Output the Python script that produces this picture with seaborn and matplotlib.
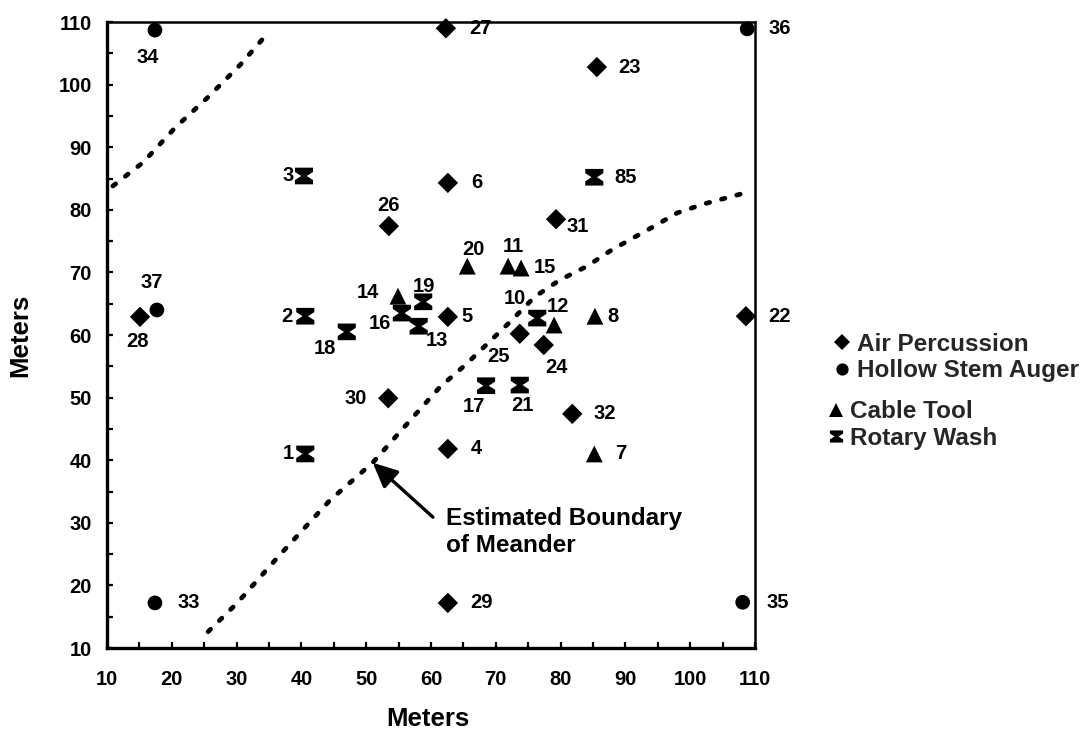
import matplotlib
matplotlib.use("Agg")
import numpy as np
import pandas as pd
import seaborn as sns
import matplotlib.pyplot as plt
from matplotlib.path import Path
from matplotlib.lines import Line2D
from matplotlib.ticker import MultipleLocator

# ---------------- data ----------------
ap_labels = ["27", "23", "6", "26", "31", "5", "25", "24", "30", "32", "4", "29", "28", "22"]
ap_x = [62.3, 85.6, 62.6, 53.5, 79.3, 62.6, 73.7, 77.4, 53.4, 81.8, 62.6, 62.6, 15.1, 108.6]
ap_y = [109.0, 102.8, 84.3, 77.4, 78.5, 62.9, 60.2, 58.4, 49.9, 47.4, 41.8, 17.2, 62.9, 63.0]

hsa_labels = ["34", "36", "37", "33", "35"]
hsa_x = [17.4, 108.8, 17.7, 17.4, 108.1]
hsa_y = [108.7, 108.9, 64.0, 17.2, 17.3]

ct_labels = ["20", "11", "15", "14", "12", "8", "7"]
ct_x = [65.6, 71.9, 73.9, 54.9, 79.0, 85.3, 85.2]
ct_y = [71.0, 71.0, 70.7, 66.2, 61.6, 63.0, 41.0]

rw_labels = ["3", "85", "2", "18", "16", "19", "13", "10", "17", "21", "1"]
rw_x = [40.4, 85.2, 40.6, 47.0, 55.5, 58.8, 58.1, 76.4, 68.5, 73.7, 40.6]
rw_y = [85.4, 85.2, 63.0, 60.5, 63.5, 65.3, 61.4, 62.7, 51.9, 52.0, 41.0]

methods = ["Air Percussion", "Hollow Stem Auger", "Cable Tool", "Rotary Wash"]

# estimated boundary of meander (two dotted curves)
upper_x = [10.9, 15.6, 20.5, 25.6, 30.5, 34.8]
upper_y = [83.8, 87.6, 93.1, 98.0, 103.1, 108.2]
lower_x = [25.6, 30.1, 36.7, 44.4, 51.0, 57.5, 61.4, 65.6, 72.2, 76.0, 79.9,
           84.1, 87.9, 94.3, 98.0, 102.0, 108.8]
lower_y = [12.6, 17.2, 24.9, 33.6, 39.6, 47.2, 51.7, 55.5, 62.1, 66.1, 68.8,
           71.0, 73.6, 77.3, 79.5, 80.9, 82.8]

x_ticks = [10, 20, 30, 40, 50, 60, 70, 80, 90, 100, 110]
y_ticks = [10, 20, 30, 40, 50, 60, 70, 80, 90, 100, 110]

# ---------------- layout (label offsets in pixels: dx right, dy down) -------------
label_offsets = {
    "1": (-17, 0), "2": (-18, 0), "3": (-16, 0), "4": (28, 0), "5": (19, 0),
    "6": (29, 0), "7": (26, 0), "8": (18, 0), "10": (-22, -20), "11": (5, -20),
    "12": (4, -18), "13": (18, 14), "14": (-30, -4), "15": (24, -1),
    "16": (-22, 10), "17": (-12, 21), "18": (-22, 17), "19": (1, -15),
    "20": (6, -17), "21": (3, 20), "22": (34, 0), "23": (33, 0), "24": (13, 22),
    "25": (-21, 23), "26": (0, -21), "27": (35, 0), "28": (-3, 25), "29": (34, 0),
    "30": (-33, 0), "31": (22, 7), "32": (32, 0), "33": (34, 0), "34": (-7, 27),
    "35": (35, 0), "36": (33, 0), "37": (-5, -27), "85": (31, 0),
}

hourglass = Path(
    [(-1, 0.92), (1, 0.92), (1, 0.45), (0.3, 0), (1, -0.45), (1, -0.92),
     (-1, -0.92), (-1, -0.45), (-0.3, 0), (-1, 0.45), (-1, 0.92)],
    [Path.MOVETO] + [Path.LINETO] * 9 + [Path.CLOSEPOLY],
)
markers = {"Air Percussion": "D", "Hollow Stem Auger": "o",
           "Cable Tool": "^", "Rotary Wash": hourglass}
sizes = {"Air Percussion": 108, "Hollow Stem Auger": 112,
         "Cable Tool": 148, "Rotary Wash": 170}
leg_sizes = {"Air Percussion": 8.4, "Hollow Stem Auger": 8.8,
             "Cable Tool": 9.5, "Rotary Wash": 9.5}

df = pd.concat([
    pd.DataFrame({"label": ap_labels, "x": ap_x, "y": ap_y, "method": methods[0]}),
    pd.DataFrame({"label": hsa_labels, "x": hsa_x, "y": hsa_y, "method": methods[1]}),
    pd.DataFrame({"label": ct_labels, "x": ct_x, "y": ct_y, "method": methods[2]}),
    pd.DataFrame({"label": rw_labels, "x": rw_x, "y": rw_y, "method": methods[3]}),
], ignore_index=True)

# ---------------- style ----------------
sns.set_theme(style="white")
plt.rcParams["font.family"] = ["Liberation Sans", "DejaVu Sans"]
plt.rcParams["font.weight"] = "bold"
plt.rcParams["axes.labelweight"] = "bold"

W, H = 1086, 733
fig = plt.figure(figsize=(W / 100, H / 100), dpi=100)
ax = fig.add_axes([107 / W, 1 - 648 / H, (755 - 107) / W, (648 - 22) / H])

# boundary curves
for cx, cy in [(upper_x, upper_y), (lower_x, lower_y)]:
    sns.lineplot(x=cx, y=cy, sort=False, estimator=None, color="black", lw=3.4, ax=ax)
    ln = ax.lines[-1]
    ln.set_linestyle((0, (0.75, 2.6)))
    ln.set_dash_capstyle("round")

# points
for m in methods:
    sub = df[df["method"] == m]
    sns.scatterplot(data=sub, x="x", y="y", marker=markers[m], s=sizes[m],
                    color="black", edgecolor="none", linewidth=0, ax=ax,
                    legend=False, clip_on=False, zorder=3)

# point labels
for _, r in df.iterrows():
    dx, dy = label_offsets[r["label"]]
    ax.annotate(r["label"], (r["x"], r["y"]), xytext=(dx * 0.72, -dy * 0.72),
                textcoords="offset points", ha="center", va="center",
                fontsize=14.5, fontweight="bold", color="black")

# arrow + annotation text
ax.annotate("", xy=(51.0, 39.6), xytext=(60.3, 30.9),
            arrowprops=dict(arrowstyle="-|>,head_length=0.75,head_width=0.35",
                            mutation_scale=20, lw=2.4, color="black",
                            shrinkA=0, shrinkB=0))
ax.text(62.3, 28.5, "Estimated Boundary\nof Meander", ha="left", va="center",
        fontsize=17.5, fontweight="bold", color="black", linespacing=1.2)

# axes
ax.set_xlim(10, 110)
ax.set_ylim(10, 110)
ax.set_xticks(x_ticks)
ax.set_yticks(y_ticks)
ax.xaxis.set_minor_locator(MultipleLocator(5))
ax.yaxis.set_minor_locator(MultipleLocator(5))
ax.tick_params(which="both", direction="in", length=4.5, width=1.6,
               color="black", top=False, right=False, bottom=True, left=True)
ax.tick_params(axis="x", which="major", pad=16, labelsize=14.5, labelcolor="black")
ax.tick_params(axis="y", which="major", pad=11, labelsize=14.5, labelcolor="black")
for t in ax.get_xticklabels() + ax.get_yticklabels():
    t.set_fontweight("bold")

for side, lw in [("left", 2.4), ("bottom", 2.4), ("top", 1.8), ("right", 1.8)]:
    ax.spines[side].set_visible(True)
    ax.spines[side].set_color("black")
    ax.spines[side].set_linewidth(lw)

ax.set_xlabel("Meters", fontsize=18.5, fontweight="bold", color="black")
ax.set_ylabel("Meters", fontsize=18.5, fontweight="bold", color="black")
ax.xaxis.set_label_coords(0.495, -0.094)
ax.xaxis.label.set_va("top")
ax.yaxis.set_label_coords(-0.115, 0.5)

# legends
def handles(ms):
    return [Line2D([], [], marker=markers[m], color="black", linestyle="none",
                   markersize=leg_sizes[m], markeredgewidth=0) for m in ms]

leg_kw = dict(loc="center left", frameon=False, borderpad=0, borderaxespad=0,
              handlelength=0.8, labelspacing=0.15,
              prop={"size": 17.5, "weight": "bold"}, bbox_transform=fig.transFigure)
leg1 = ax.legend(handles(methods[:2]), methods[:2], bbox_to_anchor=(832 / W, 1 - 357.5 / H),
                 handletextpad=0.22, **leg_kw)
ax.add_artist(leg1)
leg2 = ax.legend(handles(methods[2:]), methods[2:], bbox_to_anchor=(826 / W, 1 - 425 / H),
                 handletextpad=0.2, **leg_kw)

fig.savefig("out.png", dpi=100, facecolor="white")
